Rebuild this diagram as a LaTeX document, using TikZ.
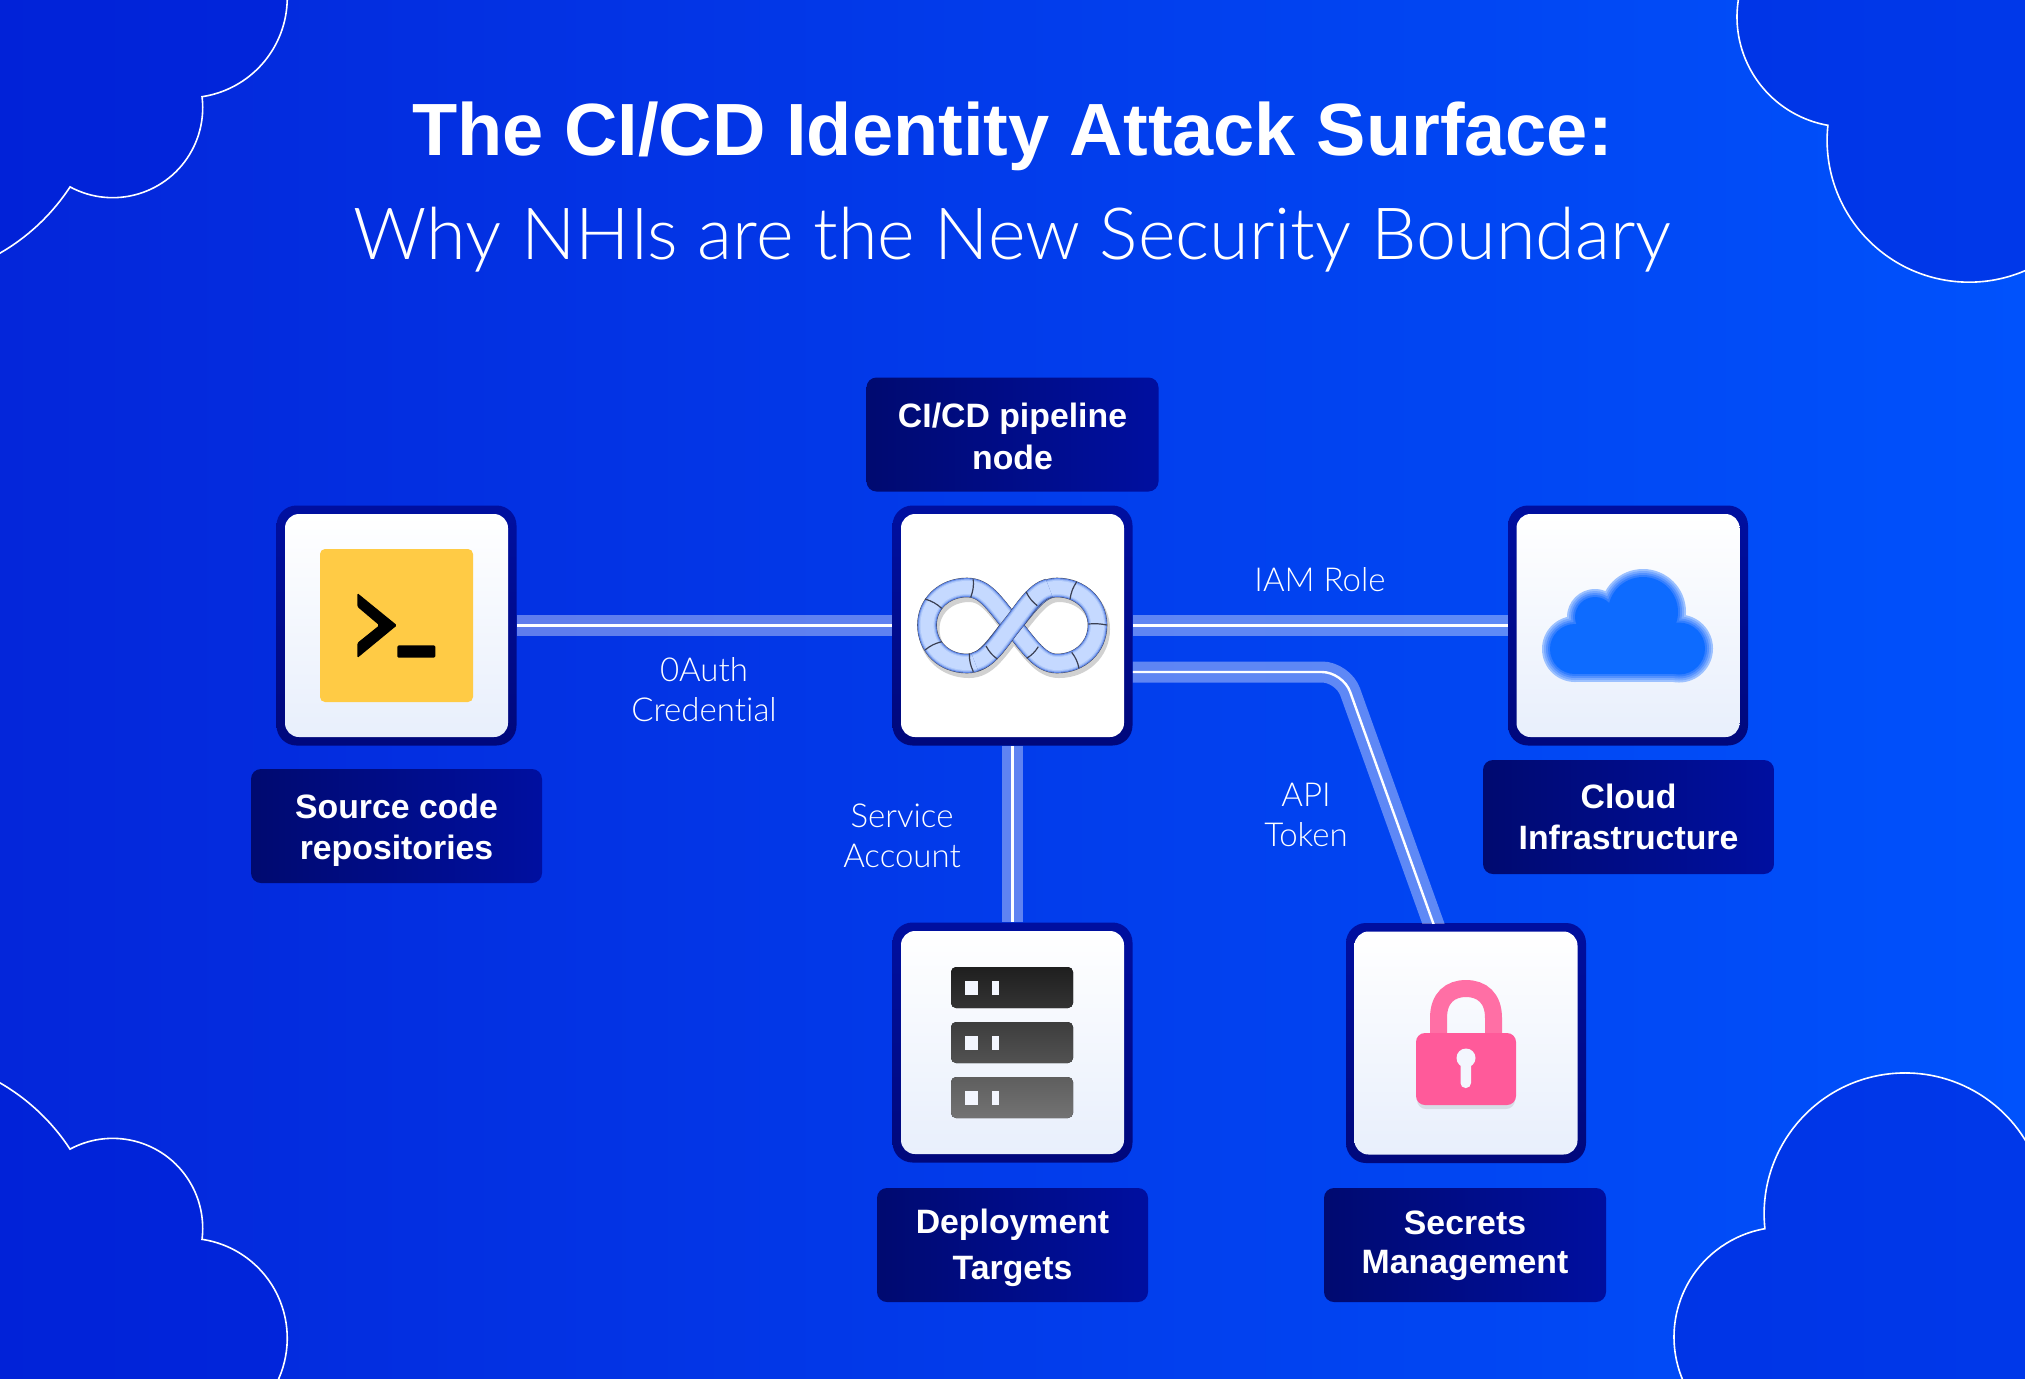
\documentclass[tikz,border=0pt]{standalone}
\usepackage{fontspec}
\setmainfont{Liberation Sans}
\newfontfamily\titlef{Liberation Sans}
\newfontfamily\lightf{Lato Light}[Ligatures=NoCommon]
\definecolor{bgL}{HTML}{0426DA}
\definecolor{bgR}{HTML}{0052FC}
\definecolor{cloudfill}{HTML}{0020D8}
\definecolor{frameT}{HTML}{000FA0}
\definecolor{frameB}{HTML}{00087C}
\definecolor{tileB}{HTML}{E8EFFC}
\definecolor{tagL}{HTML}{000A70}
\definecolor{tagR}{HTML}{000FA0}
\definecolor{termY}{HTML}{FFCB45}
\definecolor{lockBody}{HTML}{FF5A9A}
\definecolor{lockArc}{HTML}{FF6FA5}
\definecolor{keyH}{HTML}{F3F6FE}
\definecolor{cA}{HTML}{9CC1FF}
\definecolor{cB}{HTML}{78A9FF}
\definecolor{cC}{HTML}{5592FF}
\definecolor{cD}{HTML}{337FFF}
\definecolor{cE}{HTML}{0D6BFF}
\definecolor{ringO}{HTML}{3A3F52}
\definecolor{ringE}{HTML}{5F86E6}
\definecolor{ringM}{HTML}{8FAEF2}
\definecolor{ringN}{HTML}{AEC8FA}
\definecolor{ringC}{HTML}{C5D9FF}
\tikzset{
  frame/.style={rounded corners=10pt,inner sep=0pt,minimum size=120pt,top color=frameT,bottom color=frameB,draw=none},
  tile/.style={rounded corners=7pt,inner sep=0pt,minimum size=111.5pt,top color=white,bottom color=tileB,draw=none},
  whitetile/.style={rounded corners=7pt,inner sep=0pt,minimum size=111.5pt,fill=white,draw=none},
  tag/.style={rounded corners=5pt,inner sep=0pt,minimum height=57pt,left color=tagL,right color=tagR,draw=none,text=white,align=center,font=\fontsize{16.9}{20.8}\selectfont\bfseries},
  edgelabel/.style={text=white,align=center,inner sep=0pt,font=\lightf\fontsize{16.5}{20}\selectfont},
  wireband/.style={line width=10.5pt,white,opacity=.37},
  wirecore/.style={line width=1.2pt,white},
  cornerline/.style={fill=cloudfill,fill opacity=.5,draw=white,line width=.8pt},
  seam/.style={draw=ringO,line width=.6pt},
  bar/.style={rounded corners=2.5pt},
  led/.style={fill=keyH}
}
\newcommand{\tagtext}[3][16pt]{\rule{0pt}{#1}#2\\#3\rule[-4pt]{0pt}{4pt}}
\newcommand{\lemnipath}{(1012,625) .. controls (1030,603) and (1040,587.5) .. (1057,587.5) .. controls (1080,587.5) and (1097.5,604) .. (1097.5,625) .. controls (1097.5,647) and (1080,663.5) .. (1057,663.5) .. controls (1040,663.5) and (1030,647) .. (1012,625) .. controls (994,603) and (985,587.5) .. (967,587.5) .. controls (944,587.5) and (927,604) .. (927,625) .. controls (927,647) and (944,663.5) .. (967,663.5) .. controls (985,663.5) and (994,647) .. (1012,625) -- cycle}
\newcommand{\crosspath}{(975,662) .. controls (990,658) and (1000,640) .. (1012,625) .. controls (1024,610) and (1034,592) .. (1049,588)}
\begin{document}
\begin{tikzpicture}[x=0.5pt,y=-0.5pt]
\useasboundingbox (0,0) rectangle (2025,1378);
\shade[left color=bgL,right color=bgR] (0,0) rectangle (2025,1378);
% corner clouds
\begin{scope}
\clip (0,0) rectangle (2025,1378);
\draw[cornerline] (-104,73) ++(70:208) arc[start angle=70,end angle=33.2,radius=208]
  arc[start angle=118.3,end angle=-7,radius=90]
  arc[start angle=81.5,end angle=-10,radius=100] -- (-40,-30) -- cycle;
\draw[cornerline] (-104,1263) ++(-70:208) arc[start angle=-70,end angle=-33.2,radius=208]
  arc[start angle=-118.3,end angle=7,radius=90]
  arc[start angle=-81.5,end angle=30,radius=100] -- (-40,1420) -- cycle;
\draw[cornerline] (1847,17) ++(200:110) arc[start angle=200,end angle=100,radius=110]
  arc[start angle=186,end angle=50,radius=142] -- (2100,-50) -- cycle;
\draw[cornerline] (1784,1337) ++(150:110) arc[start angle=150,end angle=260,radius=110]
  arc[start angle=174,end angle=340,radius=141] -- (2100,1450) -- cycle;
\end{scope}
% frames
\node[frame] (src) at (396.5,625.5) {};
\node[frame] (pipe) at (1012.5,625.5) {};
\node[frame] (cloudbox) at (1628,625.5) {};
\node[frame] (deploy) at (1012.5,1042.5) {};
\node[frame] (lock) at (1466,1043) {};
% connectors
\coordinate (apibend) at (1343,672);
\foreach \wstyle in {wireband,wirecore}{
  \draw[\wstyle] (src.east) -- (pipe.west);
  \draw[\wstyle] (pipe.east) -- (cloudbox.west);
  \draw[\wstyle] (pipe.south) -- (deploy.north);
  \begin{scope}
  \clip (1100,600) rectangle (1600,923);
  \draw[\wstyle,rounded corners=10.5pt] ([shift={(0,46.5)}]pipe.east) -- (apibend) -- ([shift={(-29.4,10)}]lock.north);
  \end{scope}
}
% tiles
\node[tile] (srcin) at (src) {};
\node[whitetile] (pipein) at (pipe) {};
\node[tile] (cloudin) at (cloudbox) {};
\node[tile] (deployin) at (deploy) {};
\node[tile] (lockin) at (lock) {};
% terminal icon
\fill[termY,rounded corners=2.5pt] (320,549) rectangle (473,702);
\fill[black,rounded corners=.7pt] (357.3,593) -- (397,625.3) -- (357.3,658) -- (357.3,643) -- (379.3,625.3) -- (357.3,606.7) -- cycle;
\fill[black,rounded corners=.7pt] (397.3,645.3) rectangle (435.3,657.7);
% infinity icon
\draw[black,opacity=.18,line width=10.5pt,shift={(2,4)}] \lemnipath;
\foreach \rw/\rc in {9.8/ringO,9.4/ringE,8.4/ringM,7.6/ringN,6.5/ringC}{
  \draw[line width=\rw pt,\rc] \lemnipath;
}
\foreach \rw/\rc in {9.8/ringO,9.4/ringE,8.4/ringM,7.6/ringN,6.5/ringC}{
  \draw[line width=\rw pt,\rc] \crosspath;
}
\draw[seam] (973.3,579.3) to[bend left=12] (970.7,597.3);
\draw[seam] (925,599) to[bend left=12] (941.7,608.3);
\draw[seam] (925,650) to[bend left=12] (941.7,641.7);
\draw[seam] (969.3,653.3) to[bend right=12] (973.3,671.7);
\draw[seam] (986,646) to[bend right=12] (997.3,659);
\draw[seam] (1026,591.7) to[bend right=12] (1037.3,605.7);
\draw[seam] (1076.7,581.7) to[bend right=12] (1070,599.3);
\draw[seam] (1088.3,624) to[bend left=8] (1106.7,625);
\draw[seam] (1071.7,652.3) to[bend left=12] (1079,668.3);
\draw[seam] (1026.7,658.3) to[bend right=12] (1038.3,646.7);
% cloud icon
\foreach \d/\c in {0/cA,2/cB,4/cC,6/cD,8/cE}{
  \fill[\c] (1643,612) circle[radius=43-\d];
  \fill[\c] (1595,617) circle[radius=28-\d];
  \fill[\c] (1575,649) circle[radius=33-\d];
  \fill[\c] (1679,648.5) circle[radius=34-\d];
  \fill[\c] (1575,625) rectangle (1679,682-\d);
}
% server icon
\fill[bar,top color=black!88,bottom color=black!80] (951,967) rectangle (1073,1008);
\fill[bar,top color=black!76,bottom color=black!68] (951,1022) rectangle (1073,1063);
\fill[bar,top color=black!63,bottom color=black!55] (951,1077) rectangle (1073,1118);
\foreach \ry in {981,1036,1091}{
  \fill[led] (964.5,\ry) rectangle (978,\ry+14);
  \fill[led] (992,\ry) rectangle (999,\ry+14);
}
% lock icon
\fill[black,opacity=.09,rounded corners=4.5pt] (1417,1036) rectangle (1515,1109);
\draw[lockArc,line width=8.5pt] (1438.5,1035) -- (1438.5,1018) .. controls (1438.5,998) and (1450,988.5) .. (1466,988.5) .. controls (1482,988.5) and (1493.5,998) .. (1493.5,1018) -- (1493.5,1035);
\fill[lockBody,rounded corners=4.5pt] (1416,1033) rectangle (1516,1105);
\fill[keyH] (1466,1058) circle[radius=9.5];
\fill[keyH,rounded corners=2.5pt] (1460.5,1060) rectangle (1471,1088);
% tags
\node[tag,minimum width=146pt] (pipetag) at (1012.5,434.5) {\tagtext[18pt]{CI/CD pipeline}{node}};
\node[tag,minimum width=145.5pt] (srctag) at (396.5,826) {\tagtext[17pt]{Source code}{repositories}};
\node[tag,minimum width=145.5pt] (cloudtag) at (1628.5,817) {\tagtext{Cloud}{Infrastructure}};
\node[tag,minimum width=135.5pt] (deploytag) at (1012.5,1245) {\rule{0pt}{15pt}Deployment\\[2.2pt]Targets\rule[-4pt]{0pt}{4pt}};
\node[tag,minimum width=141pt] (locktag) at (1465,1245) {\rule{0pt}{13pt}Secrets\\[-1.2pt]Management\rule[-4pt]{0pt}{4pt}};
% connector labels
\node[edgelabel] (oauth) at (704,690) {0Auth\\Credential};
\node[edgelabel] (iam) at (1320,580) {IAM Role};
\node[edgelabel] (svc) at (902,836) {Service\\Account};
\node[edgelabel] (api) at (1306,815) {API\\Token};
% titles
\node[anchor=base,text=white,inner sep=0pt,font=\titlef\bfseries\fontsize{37}{40}\selectfont] (title) at (1012.5,155) {The CI/CD Identity Attack Surface:};
\node[anchor=base,text=white,inner sep=0pt,font=\lightf\fontsize{36}{40}\selectfont] (subtitle) at (1012.5,259) {Why NHIs are the New Security Boundary};
\end{tikzpicture}
\end{document}
